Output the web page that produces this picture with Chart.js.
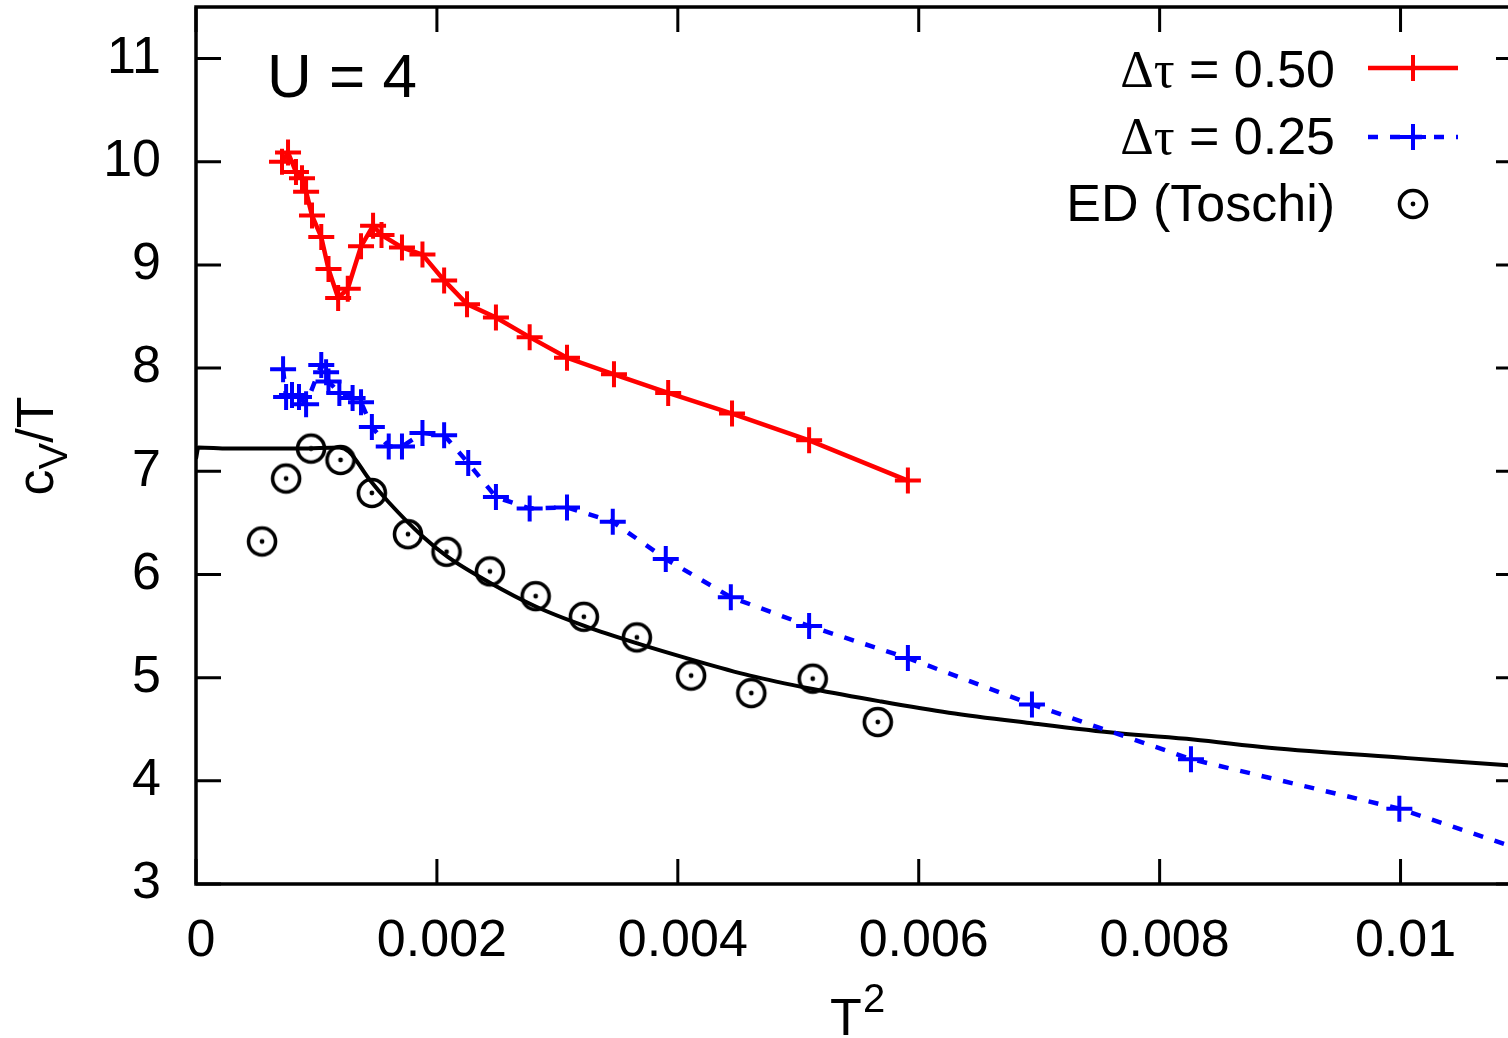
<!DOCTYPE html>
<html>
<head>
<meta charset="utf-8">
<script src="https://cdn.jsdelivr.net/npm/chart.js@4.4.1/dist/chart.umd.min.js"></script>
<style>
    html, body { margin: 0; padding: 0; background: #fff; overflow: hidden; }
    #wrap { width: 1508px; height: 1038px; overflow: hidden; }
    canvas { display: block; }
</style>
</head>
<body>
<div id="wrap"><canvas id="cvChart" width="1524" height="1038"></canvas></div>
<script>
// Data: T^2 on x, c_V/T on y
const redT2  = [0.000714, 0.000764, 0.00083, 0.00088, 0.000914, 0.000963, 0.00104, 0.0011, 0.00118, 0.00126,
                0.00137, 0.00147, 0.00154, 0.00171, 0.00188, 0.00206, 0.00225, 0.00249, 0.00277, 0.00308,
                0.00347, 0.00392, 0.00445, 0.00509, 0.00591];
const redCv  = [10.00, 10.09, 9.90, 9.84, 9.71, 9.48, 9.27, 8.96, 8.68, 8.77,
                9.18, 9.38, 9.29, 9.17, 9.10, 8.85, 8.62, 8.49, 8.30, 8.10,
                7.94, 7.76, 7.56, 7.30, 6.91];

const blueT2 = [0.000723, 0.000748, 0.000797, 0.000855, 0.000914, 0.00104, 0.00108, 0.0011, 0.00119, 0.0013,
                0.00137, 0.00146, 0.0016, 0.00171, 0.00188, 0.00206, 0.00226, 0.00249, 0.00277, 0.00308,
                0.00346, 0.0039, 0.00444, 0.00509, 0.00591, 0.00694, 0.00826, 0.00999, 0.0121];
const blueCv = [7.99, 7.72, 7.74, 7.72, 7.65, 8.03, 7.96, 7.87, 7.76, 7.71,
                7.67, 7.43, 7.24, 7.24, 7.37, 7.35, 7.08, 6.75, 6.64, 6.65,
                6.51, 6.15, 5.78, 5.50, 5.19, 4.74, 4.21, 3.73, 2.90];

const edT2   = [0.000548, 0.000748, 0.000955, 0.0012, 0.00146, 0.00176, 0.00208, 0.00244, 0.00282, 0.00322,
                0.00366, 0.00411, 0.00461, 0.00512, 0.00566];
const edCv   = [6.32, 6.93, 7.22, 7.11, 6.79, 6.39, 6.22, 6.03, 5.79, 5.59,
                5.39, 5.02, 4.85, 4.99, 4.57];

// unlabeled solid black curve
const curveT2 = [0, 0.00002, 0.00027, 0.00086, 0.00119, 0.00127, 0.00144, 0.0016, 0.00188, 0.00209,
                 0.00244, 0.00282, 0.00323, 0.00367, 0.0041, 0.0046, 0.00512, 0.00568, 0.00625, 0.00692,
                 0.00766, 0.00828, 0.00891, 0.01006, 0.01089, 0.0111];
const curveCv = [7.12, 7.23, 7.22, 7.22, 7.23, 7.19, 6.92, 6.70, 6.37, 6.17,
                 5.92, 5.69, 5.50, 5.33, 5.18, 5.02, 4.89, 4.77, 4.66, 4.56,
                 4.46, 4.40, 4.32, 4.22, 4.15, 4.13];

const seriesLabels = ['Δτ = 0.50', 'Δτ = 0.25', 'ED (Toschi)'];
const xTicks = [0, 0.002, 0.004, 0.006, 0.008, 0.01];
const yTicks = [3, 4, 5, 6, 7, 8, 9, 10, 11];

const SANS = '"Liberation Sans", Arial, Helvetica, sans-serif';
const SERIF = '"Liberation Serif", "Times New Roman", serif';

function toPoints(xs, ys) {
    return xs.map((x, i) => ({ x: x, y: ys[i] }));
}

// circle with a dot in the middle, used for the ED points
function makeDotCircle() {
    const c = document.createElement('canvas');
    c.width = 36; c.height = 36;
    const g = c.getContext('2d');
    g.strokeStyle = '#000';
    g.lineWidth = 3.6;
    g.beginPath(); g.arc(18, 18, 13.5, 0, Math.PI * 2); g.stroke();
    g.fillStyle = '#000';
    g.beginPath(); g.arc(18, 18, 2.4, 0, Math.PI * 2); g.fill();
    return c;
}
const dotCircle = makeDotCircle();

function drawCross(ctx, x, y, r, color) {
    ctx.strokeStyle = color;
    ctx.lineWidth = 4;
    ctx.setLineDash([]);
    ctx.beginPath();
    ctx.moveTo(x - r, y); ctx.lineTo(x + r, y);
    ctx.moveTo(x, y - r); ctx.lineTo(x, y + r);
    ctx.stroke();
}

// frame, inward ticks, labels and legend drawn gnuplot-style
const framePlugin = {
    id: 'frame',
    afterDraw(chart) {
        const ctx = chart.ctx;
        const a = chart.chartArea;
        const xs = chart.scales.x, ys = chart.scales.y;
        const tl = 25;
        ctx.save();
        ctx.strokeStyle = '#000';
        ctx.lineWidth = 3;
        ctx.beginPath();
        xTicks.forEach(v => {
            const px = xs.getPixelForValue(v);
            ctx.moveTo(px, a.bottom); ctx.lineTo(px, a.bottom - tl);
            ctx.moveTo(px, a.top); ctx.lineTo(px, a.top + tl);
        });
        yTicks.forEach(v => {
            const py = ys.getPixelForValue(v);
            ctx.moveTo(a.left, py); ctx.lineTo(a.left + tl, py);
            ctx.moveTo(a.right, py); ctx.lineTo(a.right - tl, py);
        });
        ctx.stroke();
        ctx.lineWidth = 3.5;
        ctx.strokeRect(a.left, a.top, a.right - a.left, a.bottom - a.top);

        ctx.fillStyle = '#000';
        ctx.textBaseline = 'alphabetic';
        ctx.textAlign = 'left';

        // U = 4
        ctx.font = '62px ' + SANS;
        ctx.fillText('U = 4', 267, 97);

        // x axis title T^2
        ctx.font = '52px ' + SANS;
        ctx.fillText('T', 830, 1035);
        ctx.font = '40px ' + SANS;
        ctx.fillText('2', 863, 1012);

        // y axis title c_V/T, rotated
        ctx.save();
        ctx.translate(53, 446);
        ctx.rotate(-Math.PI / 2);
        ctx.font = '52px ' + SANS;
        const wc = ctx.measureText('c').width;
        const wT = ctx.measureText('/T').width;
        ctx.font = '40px ' + SANS;
        const wV = ctx.measureText('V').width;
        let x0 = -(wc + wV + wT) / 2;
        ctx.font = '52px ' + SANS;
        ctx.fillText('c', x0, 0);
        ctx.font = '40px ' + SANS;
        ctx.fillText('V', x0 + wc, 14);
        ctx.font = '52px ' + SANS;
        ctx.fillText('/T', x0 + wc + wV, 0);
        ctx.restore();

        // legend
        const textRight = 1335;
        const rows = [87, 154, 221];
        function tauLabel(rest, base) {
            ctx.font = '52px ' + SANS;
            const wr = ctx.measureText(rest).width;
            ctx.font = '52px ' + SERIF;
            const wd = ctx.measureText('Δτ').width;
            ctx.fillText('Δτ', textRight - wr - wd, base);
            ctx.font = '52px ' + SANS;
            ctx.fillText(rest, textRight - wr, base);
        }
        tauLabel(seriesLabels[0].slice(2), rows[0]);
        tauLabel(seriesLabels[1].slice(2), rows[1]);
        ctx.font = '52px ' + SANS;
        ctx.textAlign = 'right';
        ctx.fillText(seriesLabels[2], textRight, rows[2]);

        // legend samples
        ctx.lineWidth = 4.5;
        ctx.strokeStyle = '#ff0000';
        ctx.beginPath(); ctx.moveTo(1368, 68); ctx.lineTo(1458, 68); ctx.stroke();
        drawCross(ctx, 1413, 68, 13, '#ff0000');
        ctx.lineWidth = 4.5;
        ctx.strokeStyle = '#0000ff';
        ctx.setLineDash([10, 12]);
        ctx.beginPath(); ctx.moveTo(1368, 137); ctx.lineTo(1458, 137); ctx.stroke();
        drawCross(ctx, 1413, 137, 13, '#0000ff');
        ctx.drawImage(dotCircle, 1413 - 18, 204 - 18);
        ctx.restore();
    }
};

// drop the label overhang padding Chart.js reserves, so the frame sits where gnuplot put it
function noPad(s) {
    s.paddingTop = 0; s.paddingBottom = 0;
    s.paddingLeft = 0; s.paddingRight = 0;
}

const ctx = document.getElementById('cvChart').getContext('2d');
const chart = new Chart(ctx, {
    type: 'scatter',
    data: {
        datasets: [
            {
                label: seriesLabels[0],
                data: toPoints(redT2, redCv),
                showLine: true,
                borderColor: '#ff0000',
                backgroundColor: '#ff0000',
                borderWidth: 4.5,
                pointStyle: 'cross',
                pointRadius: 13,
                pointBorderWidth: 4,
                order: 1
            },
            {
                label: seriesLabels[1],
                data: toPoints(blueT2, blueCv),
                showLine: true,
                borderColor: '#0000ff',
                backgroundColor: '#0000ff',
                borderWidth: 4.5,
                borderDash: [10, 12],
                pointStyle: 'cross',
                pointRadius: 13,
                pointBorderWidth: 4,
                order: 2
            },
            {
                label: seriesLabels[2],
                data: toPoints(edT2, edCv),
                showLine: false,
                pointStyle: dotCircle,
                pointRadius: 18,
                order: 0
            },
            {
                label: '',
                data: toPoints(curveT2, curveCv),
                showLine: true,
                borderColor: '#000',
                borderWidth: 4,
                pointRadius: 0,
                cubicInterpolationMode: 'monotone',
                order: 3
            }
        ]
    },
    options: {
        responsive: false,
        animation: false,
        devicePixelRatio: 1,
        layout: { autoPadding: false, padding: { top: 7, right: 3, left: 0, bottom: 0 } },
        scales: {
            x: {
                type: 'linear',
                min: 0,
                max: 0.011,
                afterFit: s => { s.height = 154; noPad(s); },
                afterBuildTicks: s => { s.ticks = xTicks.map(v => ({ value: v })); },
                grid: { display: false },
                border: { display: false },
                ticks: {
                    color: '#000',
                    font: { family: SANS, size: 52 },
                    padding: 18,
                    labelOffset: 5,
                    maxRotation: 0,
                    autoSkip: false,
                    callback: v => String(Number(v.toFixed(4)))
                }
            },
            y: {
                type: 'linear',
                min: 3,
                max: 11.5,
                afterFit: s => { s.width = 196; noPad(s); },
                afterBuildTicks: s => { s.ticks = yTicks.map(v => ({ value: v })); },
                grid: { display: false },
                border: { display: false },
                ticks: {
                    color: '#000',
                    font: { family: SANS, size: 52 },
                    padding: 27,
                    autoSkip: false
                }
            }
        },
        plugins: {
            legend: { display: false },
            tooltip: { enabled: false }
        }
    },
    plugins: [framePlugin]
});
</script>
</body>
</html>
